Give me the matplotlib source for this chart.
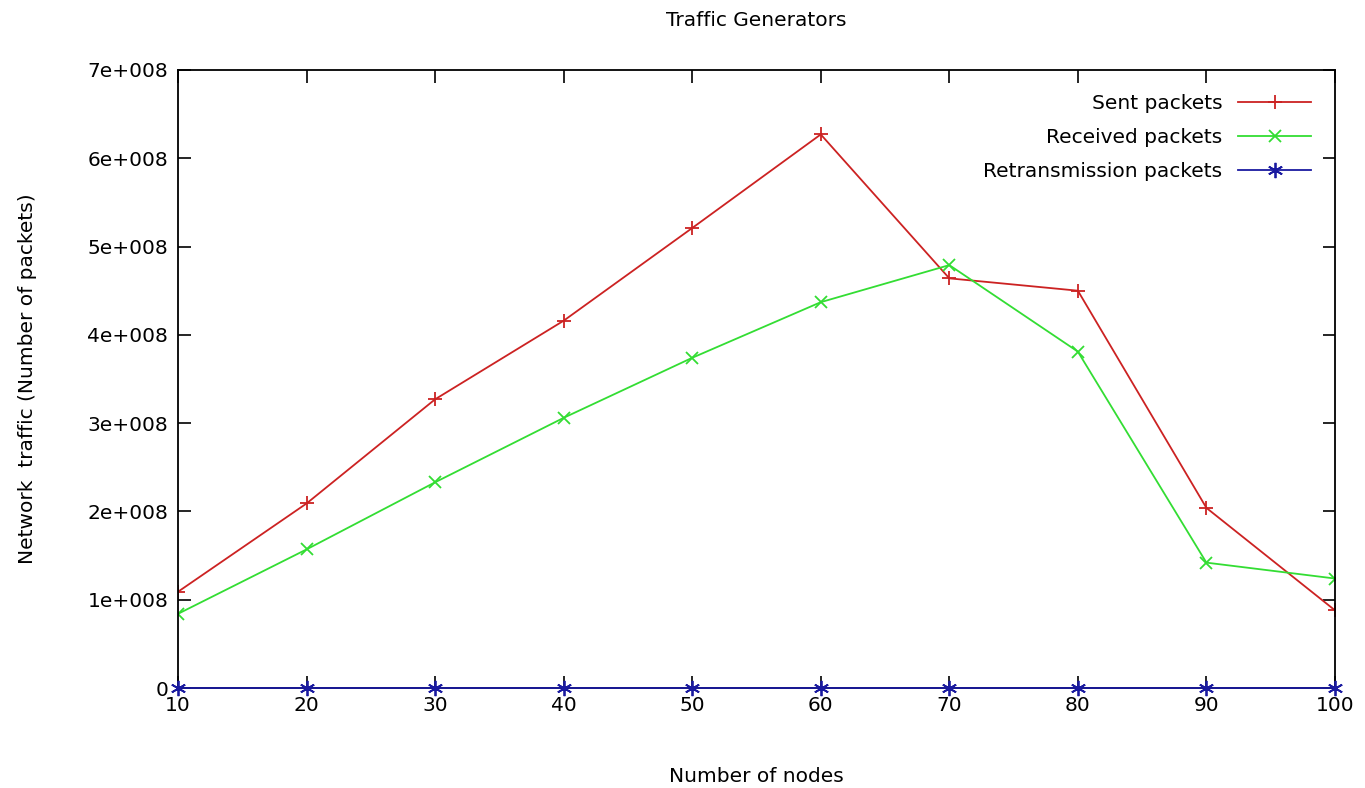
import matplotlib.pyplot as plt
from matplotlib.ticker import FuncFormatter, MultipleLocator

nodes = [10, 20, 30, 40, 50, 60, 70, 80, 90, 100]
sent = [1.09e8, 2.09e8, 3.27e8, 4.16e8, 5.21e8, 6.27e8, 4.64e8, 4.50e8, 2.04e8, 0.88e8]
received = [0.84e8, 1.57e8, 2.33e8, 3.06e8, 3.74e8, 4.37e8, 4.79e8, 3.81e8, 1.42e8, 1.24e8]
retrans = [0, 0, 0, 0, 0, 0, 0, 0, 0, 0]

plt.rcParams['font.family'] = ['DejaVu Sans']
fig = plt.figure(figsize=(13.65, 7.88), dpi=100)
ax = fig.add_axes([0.1304, 0.1269, 0.8476, 0.7843])

ax.plot(nodes, sent, color='#cc2222', marker='+', markersize=10, markeredgewidth=1.3,
        linewidth=1.3, label='Sent packets')
ax.plot(nodes, received, color='#33dd33', marker='x', markersize=8, markeredgewidth=1.3,
        linewidth=1.3, label='Received packets')
ax.plot(nodes, retrans, color='#1a1aa0', marker=(6, 2, 0), markersize=11, markeredgewidth=1.3,
        linewidth=1.3, label='Retransmission packets', clip_on=False, zorder=5)

ax.set_xlim(10, 100)
ax.set_ylim(0, 7e8)
ax.xaxis.set_major_locator(MultipleLocator(10))
ax.yaxis.set_major_locator(MultipleLocator(1e8))
ax.yaxis.set_major_formatter(FuncFormatter(lambda v, p: '0' if v == 0 else f'{int(round(v / 1e8))}e+008'))
ax.tick_params(direction='in', length=9, width=1.2, top=True, right=True, labelsize=14.5)
ax.tick_params(axis='y', pad=7)
ax.tick_params(axis='x', pad=6)
for s in ax.spines.values():
    s.set_linewidth(1.3)

ax.set_title('Traffic Generators', fontsize=14.5, pad=32)
ax.set_xlabel('Number of nodes', fontsize=14.5, labelpad=37)
ax.set_ylabel('Network  traffic (Number of packets)', fontsize=14.5, labelpad=36)

ax.legend(loc='upper right', frameon=False, markerfirst=False, fontsize=14.5,
          handlelength=3.6, borderaxespad=0.9, labelspacing=0.75, borderpad=0.3)

fig.savefig('out.png', dpi=100)
